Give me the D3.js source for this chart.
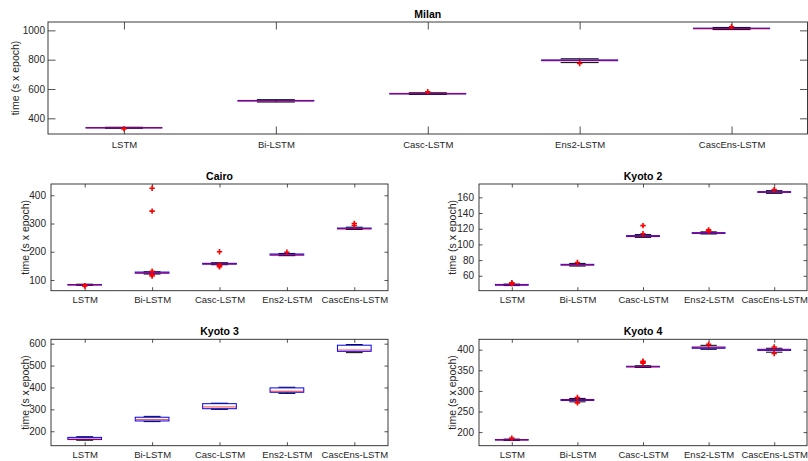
<!DOCTYPE html>
<html>
<head>
<meta charset="utf-8">
<script src="https://cdn.jsdelivr.net/npm/d3@7"></script>
<style>
  html, body { margin: 0; padding: 0; background: #fff; }
  svg { display: block; }
  text { font-family: "Liberation Sans", Arial, Helvetica, sans-serif; }
</style>
</head>
<body>
<svg id="chart" width="808" height="461"></svg>
<script>
// Training time per epoch for five recurrent architectures on five datasets.
const models = ["LSTM", "Bi-LSTM", "Casc-LSTM", "Ens2-LSTM", "CascEns-LSTM"];

// Box statistics per model: [lower whisker, Q1, median, Q3, upper whisker]
const milanStats = [
  [332, 334, 335, 337, 339],
  [511, 518, 520, 522, 527],
  [563, 566, 568, 570, 574],
  [780, 793, 796, 798, 806],
  [1005, 1011, 1013, 1015, 1020]
];
const milanOutliers = [[328], [], [581], [774], [1025]];

const cairoStats = [
  [81, 82, 83, 84, 85],
  [121, 124, 126, 128, 129],
  [154, 156, 157, 159, 161],
  [186, 188, 190, 192, 194],
  [279, 281, 282, 284, 287]
];
const cairoOutliers = [[79, 80], [114, 118, 131, 344, 425], [147, 150, 152, 200], [198], [293, 300]];

const kyoto2Stats = [
  [47.5, 48, 48.5, 49, 49.4],
  [72.4, 73.6, 74.1, 74.6, 75.8],
  [109, 110, 110.5, 111.2, 112.5],
  [113.3, 114, 114.5, 115, 116],
  [165.1, 166.3, 166.8, 167.3, 168.5]
];
const kyoto2Outliers = [[50, 50.6, 51.2], [77], [113.5, 124], [117, 118.5], [169.8]];

const kyoto3Stats = [
  [159, 162, 165, 172, 175],
  [244, 247, 253, 264, 268],
  [300, 303, 311, 326, 328],
  [373, 378, 383, 398, 401],
  [559, 565, 571, 593, 596]
];
const kyoto3Outliers = [[], [], [], [], []];

const kyoto4Stats = [
  [179.8, 180.6, 181.2, 182, 183],
  [273.5, 276.8, 278, 279.2, 281.8],
  [357, 358.2, 359, 359.8, 361],
  [401, 403.5, 405, 406.5, 410.7],
  [394, 398.3, 399.5, 401, 403.5]
];
const kyoto4Outliers = [[185.4], [271, 284], [367.5, 370, 372], [413], [391, 406.5]];

// Y tick values per panel
const milanTicks = [400, 600, 800, 1000];
const cairoTicks = [100, 200, 300, 400];
const kyoto2Ticks = [60, 80, 100, 120, 140, 160];
const kyoto3Ticks = [200, 300, 400, 500, 600];
const kyoto4Ticks = [200, 250, 300, 350, 400];

// Panel layout (pixel frame of each axes) and y-limits
const panels = [
  { title: "Milan",   stats: milanStats,  outliers: milanOutliers,  ticks: milanTicks,
    ylim: [293, 1057], box: { l: 48, r: 807.5, t: 22, b: 134 }, tickLen: 7.5, labelX: 15, pad: 3, xlabGap: 13.5 },
  { title: "Cairo",   stats: cairoStats,  outliers: cairoOutliers,  ticks: cairoTicks,
    ylim: [62, 440], box: { l: 51, r: 388, t: 184, b: 290.7 }, tickLen: 3.5, labelX: 25, pad: 5, xlabGap: 12.8 },
  { title: "Kyoto 2", stats: kyoto2Stats, outliers: kyoto2Outliers, ticks: kyoto2Ticks,
    ylim: [41, 177], box: { l: 479, r: 807, t: 184, b: 290.7 }, tickLen: 3.5, labelX: 452, pad: 5, xlabGap: 12.8 },
  { title: "Kyoto 3", stats: kyoto3Stats, outliers: kyoto3Outliers, ticks: kyoto3Ticks,
    ylim: [134, 620], box: { l: 51, r: 388, t: 339.3, b: 445.7 }, tickLen: 3.5, labelX: 25, pad: 5, xlabGap: 12.2 },
  { title: "Kyoto 4", stats: kyoto4Stats, outliers: kyoto4Outliers, ticks: kyoto4Ticks,
    ylim: [167, 425.3], box: { l: 479, r: 807, t: 339.3, b: 445.7 }, tickLen: 3.5, labelX: 452, pad: 5, xlabGap: 12.2 }
];

const AXIS = "#262626";
const svg = d3.select("#chart");

panels.forEach(p => {
  const { l, r, t, b } = p.box;
  const g = svg.append("g");
  const x = d3.scaleLinear().domain([0.5, models.length + 0.5]).range([l, r]);
  const y = d3.scaleLinear().domain(p.ylim).range([b, t]);

  // Axes with inward ticks on all four sides
  const styleAxis = sel => {
    sel.selectAll("path.domain").remove();
    sel.selectAll(".tick line").attr("stroke", AXIS).attr("stroke-width", 0.8);
    sel.selectAll("text").attr("fill", AXIS).attr("font-size", 10);
  };
  g.append("g").attr("transform", `translate(${l},0)`)
    .call(d3.axisLeft(y).tickValues(p.ticks).tickFormat(d3.format("d"))
      .tickSizeInner(-p.tickLen).tickSizeOuter(0).tickPadding(p.pad))
    .call(styleAxis);
  g.append("g").attr("transform", `translate(${r},0)`)
    .call(d3.axisRight(y).tickValues(p.ticks).tickSizeInner(-p.tickLen).tickSizeOuter(0).tickFormat(""))
    .call(styleAxis);
  const xb = g.append("g").attr("transform", `translate(0,${b})`)
    .call(d3.axisBottom(x).tickValues(d3.range(1, models.length + 1)).tickSizeInner(-p.tickLen).tickSizeOuter(0)
      .tickFormat(i => models[i - 1]))
    .call(styleAxis);
  xb.selectAll("text").attr("y", p.xlabGap).attr("dy", 0).attr("font-size", 9.5);
  g.append("g").attr("transform", `translate(0,${t})`)
    .call(d3.axisTop(x).tickValues(d3.range(1, models.length + 1)).tickSizeInner(-p.tickLen).tickSizeOuter(0).tickFormat(""))
    .call(styleAxis);

  // Frame
  g.append("rect").attr("x", l).attr("y", t).attr("width", r - l).attr("height", b - t)
    .attr("fill", "none").attr("stroke", AXIS).attr("stroke-width", 0.9);

  // Title and y label
  g.append("text").attr("x", (l + r) / 2).attr("y", t - 4).attr("text-anchor", "middle")
    .attr("font-size", 10.5).attr("font-weight", "bold").attr("fill", "#000").text(p.title);
  g.append("text")
    .attr("transform", `translate(${p.labelX + 3.5},${(t + b) / 2}) rotate(-90)`)
    .attr("text-anchor", "middle").attr("font-size", 10.5).attr("fill", AXIS)
    .text("time (s x epoch)");

  // Boxplots
  const boxW = x(1.25) - x(1);
  const capW = boxW / 2;
  p.stats.forEach((s, i) => {
    const cx = x(i + 1);
    const [lo, q1, med, q3, hi] = s;
    const bg = g.append("g");
    // whiskers
    bg.append("line").attr("x1", cx).attr("x2", cx).attr("y1", y(q3)).attr("y2", y(hi))
      .attr("stroke", "#000").attr("stroke-width", 0.7).attr("stroke-dasharray", "3,2");
    bg.append("line").attr("x1", cx).attr("x2", cx).attr("y1", y(q1)).attr("y2", y(lo))
      .attr("stroke", "#000").attr("stroke-width", 0.7).attr("stroke-dasharray", "3,2");
    // caps
    [lo, hi].forEach(v => {
      bg.append("line").attr("x1", cx - capW).attr("x2", cx + capW).attr("y1", y(v)).attr("y2", y(v))
        .attr("stroke", "#000").attr("stroke-width", 1);
    });
    // box
    bg.append("rect").attr("x", cx - boxW).attr("width", 2 * boxW)
      .attr("y", y(q3)).attr("height", Math.max(0, y(q1) - y(q3)))
      .attr("fill", "none").attr("stroke", "#0000ff").attr("stroke-width", 1);
    // median
    bg.append("line").attr("x1", cx - boxW).attr("x2", cx + boxW).attr("y1", y(med)).attr("y2", y(med))
      .attr("stroke", "#ff0000").attr("stroke-width", 1).attr("stroke-opacity", 0.75);
    // outliers
    p.outliers[i].forEach(v => {
      bg.append("path").attr("d", `M${cx - 2.7},${y(v)}H${cx + 2.7}M${cx},${y(v) - 2.7}V${y(v) + 2.7}`)
        .attr("stroke", "#ff0000").attr("stroke-width", 1.6).attr("fill", "none");
    });
  });
});
</script>
</body>
</html>
